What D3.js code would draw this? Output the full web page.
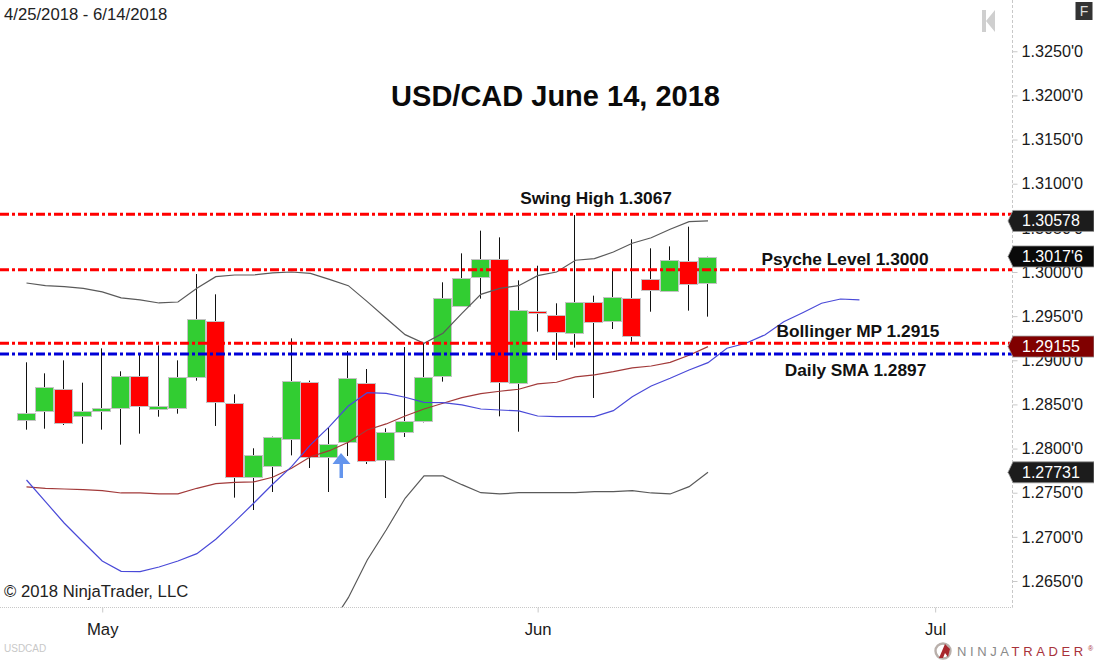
<!DOCTYPE html>
<html>
<head>
<meta charset="utf-8">
<script src="https://cdn.jsdelivr.net/npm/d3@7/dist/d3.min.js"></script>
<style>
html,body{margin:0;padding:0;background:#fff;overflow:hidden}
svg{display:block}
text{font-family:"Liberation Sans",Arial,sans-serif}
</style>
</head>
<body>
<div id="chart"></div>
<script>
const opens  = [1.28331,1.28418,1.28675,1.28373,1.28425,1.28459,1.28826,1.28448,1.28467,1.2881,1.29448,1.2852,1.27682,1.2781,1.28116,1.28758,1.27904,1.28074,1.28739,1.2787,1.28191,1.2832,1.28822,1.29622,1.29943,1.30143,1.28746,1.29558,1.29513,1.29305,1.2966,1.29441,1.29705,1.2992,1.29781,1.3012,1.29875];
const closes = [1.28407,1.28693,1.28286,1.28429,1.28463,1.28826,1.28482,1.28486,1.28815,1.29471,1.28535,1.27682,1.27927,1.28135,1.28769,1.27912,1.28055,1.28803,1.27859,1.28191,1.28312,1.28815,1.29705,1.29935,1.30151,1.28746,1.29569,1.29535,1.29316,1.2966,1.29437,1.29713,1.29275,1.29792,1.30132,1.29864,1.30173];
const highs  = [1.28977,1.28852,1.28999,1.28746,1.29135,1.28875,1.29078,1.29169,1.28999,1.29977,1.29747,1.28614,1.28003,1.28135,1.29248,1.28769,1.28233,1.29105,1.28901,1.28229,1.2915,1.29192,1.29883,1.30211,1.30468,1.30392,1.29905,1.30071,1.29645,1.30645,1.29732,1.30011,1.3037,1.30268,1.3029,1.30513,1.30173];
const lows   = [1.28214,1.28225,1.28267,1.28055,1.28214,1.28044,1.28169,1.28361,1.28395,1.28769,1.28256,1.27444,1.27304,1.27508,1.27923,1.2778,1.27508,1.27916,1.27825,1.2744,1.28131,1.28297,1.28758,1.29607,1.29698,1.28365,1.28191,1.29324,1.29003,1.29143,1.28573,1.29354,1.29211,1.2955,1.29777,1.29562,1.29494];
const upperBand  = [1.29875,1.29845,1.29834,1.29815,1.29774,1.29706,1.29683,1.29649,1.2966,1.29815,1.29947,1.29966,1.29966,1.29989,1.3,1.29985,1.29917,1.29845,1.29664,1.29476,1.2929,1.29193,1.29306,1.29532,1.29747,1.29815,1.29845,1.29958,1.3,1.30133,1.30151,1.30226,1.30325,1.30388,1.30484,1.3057,1.30578];
const middleBand = [1.27565,1.2755,1.27542,1.27535,1.27523,1.27497,1.27497,1.27486,1.27486,1.2755,1.27603,1.27618,1.27622,1.27675,1.27777,1.27908,1.27976,1.28071,1.28211,1.28279,1.28369,1.28448,1.28513,1.28576,1.28622,1.28649,1.28672,1.28732,1.28751,1.28811,1.28834,1.28871,1.28913,1.28935,1.28977,1.29057,1.29155];
const lowerBand  = [null,null,null,null,null,null,null,null,null,null,null,null,null,null,null,null,1.2598,1.26311,1.26738,1.27078,1.27437,1.2769,1.2769,1.27591,1.275,1.27486,1.275,1.275,1.275,1.275,1.27512,1.27512,1.27523,1.27497,1.27486,1.27569,1.27731];
const smaLine = [1.27644,1.27399,1.27154,1.26939,1.26727,1.2661,1.26606,1.26659,1.26727,1.2681,1.26973,1.27172,1.27381,1.27596,1.27795,1.28041,1.28248,1.28482,1.28633,1.28626,1.28581,1.28524,1.2852,1.28494,1.28448,1.28437,1.28426,1.28369,1.28361,1.28361,1.28361,1.28429,1.28588,1.28709,1.28796,1.2889,1.28973,1.29136,1.29193,1.29287,1.29437,1.29539,1.29646,1.29694,1.29683];
const priceTicks = ["1.3250'0","1.3200'0","1.3150'0","1.3100'0","1.3050'0","1.3000'0","1.2950'0","1.2900'0","1.2850'0","1.2800'0","1.2750'0","1.2700'0","1.2650'0"];
const monthLabels = ["May","Jun","Jul"];
const monthIndex = [4,27,48];
const redLevels = [1.30653,1.30026,1.29193];
const blueLevels = [1.29071];
const tagLabels = ["1.30578","1.3017'6","1.29155","1.27731"];
const tagValues = [1.30578,1.30176,1.29155,1.27731];
const tagColors = ["#1c1c1c","#0a0a0a","#800000","#1c1c1c"];

const W=1094,H=660,panelR=1012.5,panelB=607.5;
const x=d3.scaleLinear().domain([0,36]).range([26.5,708]);
const y=d3.scaleLinear().domain([1.325,1.265]).range([51.25,581]);
const svg=d3.select("#chart").append("svg").attr("width",W).attr("height",H);
svg.append("defs").append("clipPath").attr("id","panel").append("rect").attr("width",panelR).attr("height",panelB);
const plot=svg.append("g").attr("clip-path","url(#panel)");

// candles
const cx=i=>Math.floor(x(i)-.5)+.5;
const cg=plot.append("g");
const idx=d3.range(opens.length);
cg.selectAll("line").data(idx).join("line")
  .attr("x1",cx).attr("x2",cx)
  .attr("y1",i=>y(highs[i])).attr("y2",i=>y(lows[i]))
  .attr("stroke","#111").attr("stroke-width",1);
cg.selectAll("rect").data(idx).join("rect")
  .attr("x",i=>cx(i)-9).attr("width",18)
  .attr("y",i=>Math.round(y(Math.max(opens[i],closes[i])))+.5)
  .attr("height",i=>Math.max(1,Math.round(Math.abs(y(opens[i])-y(closes[i])))))
  .attr("fill",i=>closes[i]>=opens[i]?"#32CD32":"#FF0000")
  .attr("stroke","#c4c4c4").attr("stroke-width",1);

// indicator lines
const line=d3.line().defined(d=>d!=null).x((d,i)=>x(i)).y(d=>y(d));
[[upperBand,"#5a5a5a"],[lowerBand,"#5a5a5a"],[middleBand,"#a23a3a"],[smaLine,"#4a4ad8"]].forEach(([s,c])=>{
  plot.append("path").attr("d",line(s)).attr("fill","none").attr("stroke",c).attr("stroke-width",1.2);
});

// level lines
const lev=(vals,c)=>plot.append("g").selectAll("line").data(vals).join("line")
  .attr("x1",0).attr("x2",panelR).attr("y1",d=>y(d)).attr("y2",d=>y(d))
  .attr("stroke",c).attr("stroke-width",3).attr("stroke-dasharray","9 3 3 3");
lev(redLevels,"#FF0000");
lev(blueLevels,"#0000D8");

// axes
const parseTick=s=>+s.replace("'","").slice(0,6);
const yAxis=d3.axisRight(y).tickValues(priceTicks.map(parseTick))
  .tickFormat((d,i)=>priceTicks[i]).tickSize(5).tickPadding(4);
const yg=svg.append("g").attr("transform",`translate(${panelR},0)`).call(yAxis);
yg.select(".domain").remove();
yg.append("line").attr("y1",0).attr("y2",panelB).attr("stroke","#c8c8c8").attr("stroke-dasharray","3 2");
yg.selectAll(".tick line").attr("stroke","#c8c8c8");
yg.selectAll(".tick text").attr("fill","#1a1a1a").attr("font-size",16.2).attr("font-family",'"Liberation Sans",Arial,sans-serif');

const xAxis=d3.axisBottom(x).tickValues(monthIndex).tickFormat((d,i)=>monthLabels[i]).tickSize(5).tickPadding(11);
const xg=svg.append("g").attr("transform",`translate(0,${panelB})`).call(xAxis);
xg.select(".domain").remove();
xg.append("line").attr("x1",0).attr("x2",panelR).attr("stroke","#c8c8c8").attr("stroke-dasharray","1 1");
xg.selectAll(".tick line").attr("stroke","#c8c8c8");
xg.selectAll(".tick text").attr("fill","#1a1a1a").attr("font-size",16.7).attr("font-family",'"Liberation Sans",Arial,sans-serif');

// price tags
const tg=svg.append("g").selectAll("g").data(tagValues).join("g")
  .attr("transform",d=>`translate(0,${y(d)})`);
tg.append("path").attr("d","M1008,0L1013,-10.5H1094V10.5H1013Z")
  .attr("fill",(d,i)=>tagColors[i]).attr("stroke","#9a9a9a").attr("stroke-width",.8);
tg.append("text").attr("x",1022).attr("y",5.5).attr("fill","#fff").attr("font-size",16).text((d,i)=>tagLabels[i]);

// annotations
const T=(s,a,b,sz,bold,fill,anchor)=>svg.append("text").attr("x",a).attr("y",b).attr("font-size",sz)
  .attr("font-weight",bold?"bold":"normal").attr("fill",fill||"#111").attr("text-anchor",anchor||"start").text(s);
T("USD/CAD June 14, 2018",555.5,106,29,true,"#0a0a0a","middle");
T("Swing High 1.3067",596,204,17.3,true,"#111","middle");
T("Psyche Level 1.3000",845,265,17.3,true,"#111","middle");
T("Bollinger MP 1.2915",858,337,17.3,true,"#111","middle");
T("Daily SMA 1.2897",855.5,376,17.3,true,"#111","middle");
T("4/25/2018 - 6/14/2018",4,20,16.7,false,"#222");
T("© 2018 NinjaTrader, LLC",4,597,16.7,false,"#222");
T("USDCAD",4,652,10,false,"#c8c8c8");

// arrow
svg.append("path").attr("d","M341,453L350.5,464H343V478H339.5V464H332.5Z").attr("fill","#6495ED");

// rewind icon
svg.append("path").attr("d","M982,10H986V32H982ZM986,21L995,10V32Z").attr("fill","#cfcfcf");
// F button
svg.append("rect").attr("x",1075.5).attr("y",2).attr("width",17).attr("height",18).attr("fill","#333");
T("F",1084,16,14,false,"#ddd","middle");

// NinjaTrader logo
const lg=svg.append("g");
lg.append("circle").attr("cx",943).attr("cy",651).attr("r",7.5).attr("fill","none").attr("stroke","#b9b0ab").attr("stroke-width",2.4);
lg.append("path").attr("d","M939,658L945,644L950,649L948,657L945,653L943,658Z").attr("fill","#a8272d");
const nt=svg.append("text").attr("x",957).attr("y",656).attr("font-size",13).attr("letter-spacing",3.6);
nt.append("tspan").attr("fill","#8a8a8a").text("NINJA");
nt.append("tspan").attr("fill","#a8323a").text("TRADER");
T("®",1088,651,7,false,"#a8323a");
</script>
</body>
</html>
